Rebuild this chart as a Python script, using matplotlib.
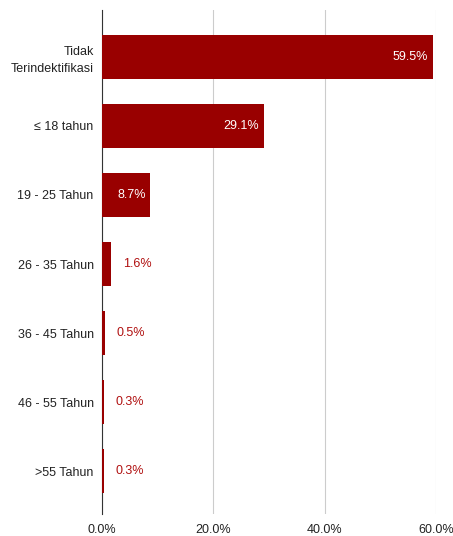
import matplotlib.pyplot as plt
from matplotlib.ticker import FuncFormatter

plt.rcParams['font.family'] = ['Liberation Sans', 'DejaVu Sans']

kategori = ["Tidak\nTerindektifikasi", "≤ 18 tahun", "19 - 25 Tahun", "26 - 35 Tahun",
            "36 - 45 Tahun", "46 - 55 Tahun", ">55 Tahun"]
persen = [59.5, 29.1, 8.7, 1.6, 0.5, 0.3, 0.3]

merah = "#990000"

fig = plt.figure(figsize=(4.53, 5.36), dpi=100)
ax = fig.add_axes([102/453, 22/536, 334/453, 504/536])

ypos = list(range(len(kategori)))
ax.barh(ypos, persen, height=0.64, color=merah, zorder=3)

# label nilai: di dalam batang kalau cukup panjang, di luar kalau pendek
for y, v in zip(ypos, persen):
    teks = f"{v:.1f}%"
    if v > 5:
        ax.annotate(teks, (v, y), xytext=(-3.5, 0), textcoords="offset points",
                    ha="right", va="center", color="white", fontsize=9, zorder=4)
    else:
        ax.annotate(teks, (v, y), xytext=(8.5, 0), textcoords="offset points",
                    ha="left", va="center", color="#b01010", fontsize=9, zorder=4)

ax.set_xlim(0, 60)
ax.set_ylim(6.623, -0.681)
ax.set_xticks([0, 20, 40, 60])
ax.xaxis.set_major_formatter(FuncFormatter(lambda x, p: f"{x:.1f}%"))
ax.set_yticks(ypos)
ax.set_yticklabels(kategori, fontsize=9, color="#222222")
ax.tick_params(axis="x", length=0, pad=7, labelsize=9, labelcolor="#222222")
ax.tick_params(axis="y", length=0, pad=6)
for lbl in ax.get_yticklabels():
    lbl.set_multialignment("right")
    lbl.set_linespacing(1.45)

ax.grid(axis="x", color="#cccccc", linewidth=0.8, zorder=0)
for s in ["top", "right", "bottom"]:
    ax.spines[s].set_visible(False)
ax.spines["left"].set_color("#333333")
ax.spines["left"].set_zorder(2)

fig.savefig("out.png", dpi=100)
